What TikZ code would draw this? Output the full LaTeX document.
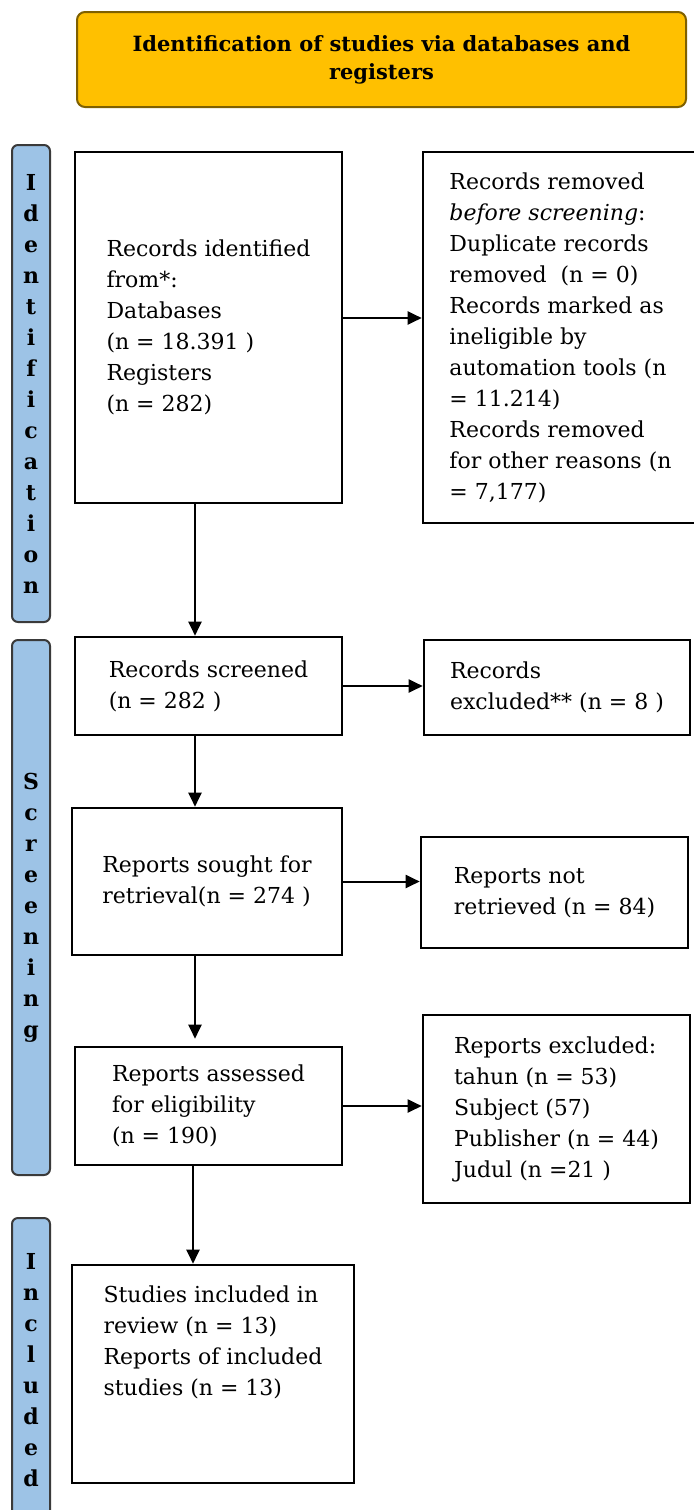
\documentclass[tikz,border=0pt]{standalone}
\usepackage{fontspec}
\setmainfont{DejaVu Serif}
\usepackage{xcolor}
\usepackage{tikz}
\usetikzlibrary{arrows.meta}
\definecolor{kuning}{HTML}{FFC000}
\definecolor{gariskuning}{HTML}{7F6000}
\definecolor{biru}{HTML}{9DC3E6}
\definecolor{garisbiru}{HTML}{3A3A3A}

\begin{document}
\begin{tikzpicture}[
    x=0.5pt, y=-0.5pt,
    ukuran/.style 2 args={minimum width=#1*0.5pt, minimum height=#2*0.5pt},
    judul/.style={
        rectangle,
        rounded corners=4pt,
        draw=gariskuning,
        line width=1pt,
        fill=kuning,
        align=center,
        inner sep=0pt,
        font=\bfseries\fontsize{10.5}{14}\selectfont,
    },
    tahap/.style={
        rectangle,
        rounded corners=3pt,
        draw=garisbiru,
        line width=1pt,
        fill=biru,
        align=center,
        inner sep=0pt,
        font=\bfseries\fontsize{11}{15.5}\selectfont,
    },
    kotak/.style={
        rectangle,
        draw=black,
        line width=1.3pt,
        fill=white,
        align=left,
        inner sep=0pt,
        font=\fontsize{11}{15.5}\selectfont,
    },
    panah/.style={-{Triangle[length=7pt,width=6.5pt]}, line width=1pt, color=black},
]
\useasboundingbox (0,0) rectangle (694,1510);

\node[judul, ukuran={609}{95}] (judul) at (381.5,59.5) {Identification of studies via databases and\\registers};

\node[tahap, ukuran={38}{477}] (identifikasi) at (31,383.5) {I\\d\\e\\n\\t\\i\\f\\i\\c\\a\\t\\i\\o\\n};
\node[tahap, ukuran={38}{535}] (penyaringan) at (31,907.5) {S\\c\\r\\e\\e\\n\\i\\n\\g};
\node[tahap, ukuran={38}{304}] (termasuk) at (31,1370) {I\\n\\c\\l\\u\\d\\e\\d};

\node[kotak, ukuran={267}{351}] (identif) at (208.5,327.5) {Records identified\\from*:\\Databases\\(n = 18.391 )\\Registers\\(n = 282)};
\node[kotak, ukuran={275}{371}] (dihapus) at (560.5,337.5) {Records removed\\\textit{before screening}:\\Duplicate records\\removed\ \ (n = 0)\\Records marked as\\ineligible by\\automation tools (n\\= 11.214)\\Records removed\\for other reasons (n\\= 7,177)};

\node[kotak, ukuran={267}{98}] (disaring) at (208.5,686) {Records screened\\(n = 282 )};
\node[kotak, ukuran={266}{95}] (dikecualikan) at (557,687.5) {Records\\excluded** (n = 8 )};

\node[kotak, ukuran={270}{147}] (dicari) at (207,881.5) {Reports sought for\\retrieval(n = 274 )};
\node[kotak, ukuran={267}{111}] (takdiambil) at (554.5,892.5) {Reports not\\retrieved (n = 84)};

\node[kotak, ukuran={267}{118}] (dinilai) at (208.5,1106) {Reports assessed\\for eligibility\\(n = 190)};
\node[kotak, ukuran={267}{188}] (laporankeluar) at (556.5,1109) {Reports excluded:\\tahun (n = 53)\\Subject (57)\\Publisher (n = 44)\\Judul (n =21 )};

\node[kotak, ukuran={282}{218}, text depth=33pt] (studi) at (213,1374) {Studies included in\\review (n = 13)\\Reports of included\\studies (n = 13)};

\draw[panah] ([yshift=4.75pt]identif.east) -- ([yshift=4.75pt]identif.east -| dihapus.west);
\draw[panah] (disaring.east) -- (disaring.east -| dikecualikan.west);
\draw[panah] (dicari.east) -- (dicari.east -| takdiambil.west);
\draw[panah] (dinilai.east) -- (dinilai.east -| laporankeluar.west);

\draw[panah] ([xshift=-6.75pt]identif.south) -- ([xshift=-6.75pt]identif.south |- disaring.north);
\draw[panah] ([xshift=-6.75pt]disaring.south) -- ([xshift=-6.75pt]disaring.south |- dicari.north);
\draw[panah] ([xshift=-6pt]dicari.south) -- ([xshift=-6pt,yshift=3.5pt]dicari.south |- dinilai.north);
\draw[panah] ([xshift=-7.75pt]dinilai.south) -- ([xshift=-7.75pt]dinilai.south |- studi.north);

\end{tikzpicture}
\end{document}
